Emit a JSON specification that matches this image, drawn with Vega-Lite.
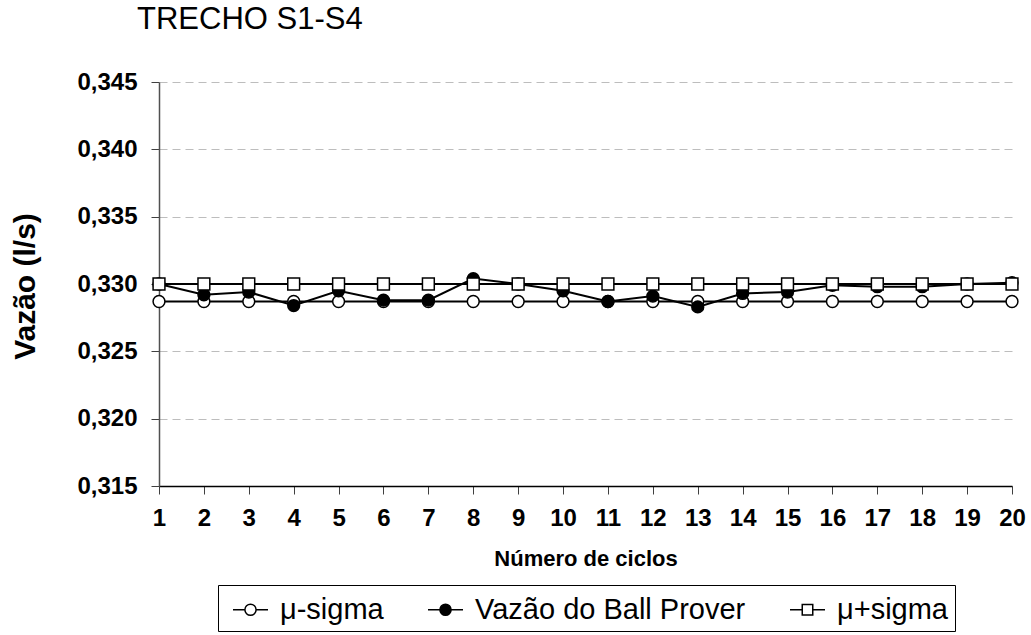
{
  "$schema": "https://vega.github.io/schema/vega-lite/v6.json",
  "width": 853,
  "height": 404,
  "autosize": {"type": "none"},
  "padding": {"left": 159, "top": 82, "right": 19, "bottom": 149},
  "background": "white",
  "title": {
    "text": "TRECHO S1-S4",
    "anchor": "start",
    "frame": "group",
    "font": "Liberation Sans",
    "fontSize": 31,
    "fontWeight": "normal",
    "color": "black",
    "dx": -22,
    "baseline": "alphabetic",
    "offset": 10
  },
  "data": {
    "values": [
      {"ciclo": 1, "serie": "μ-sigma", "valor": 0.3287},
      {"ciclo": 2, "serie": "μ-sigma", "valor": 0.3287},
      {"ciclo": 3, "serie": "μ-sigma", "valor": 0.3287},
      {"ciclo": 4, "serie": "μ-sigma", "valor": 0.3287},
      {"ciclo": 5, "serie": "μ-sigma", "valor": 0.3287},
      {"ciclo": 6, "serie": "μ-sigma", "valor": 0.3287},
      {"ciclo": 7, "serie": "μ-sigma", "valor": 0.3287},
      {"ciclo": 8, "serie": "μ-sigma", "valor": 0.3287},
      {"ciclo": 9, "serie": "μ-sigma", "valor": 0.3287},
      {"ciclo": 10, "serie": "μ-sigma", "valor": 0.3287},
      {"ciclo": 11, "serie": "μ-sigma", "valor": 0.3287},
      {"ciclo": 12, "serie": "μ-sigma", "valor": 0.3287},
      {"ciclo": 13, "serie": "μ-sigma", "valor": 0.3287},
      {"ciclo": 14, "serie": "μ-sigma", "valor": 0.3287},
      {"ciclo": 15, "serie": "μ-sigma", "valor": 0.3287},
      {"ciclo": 16, "serie": "μ-sigma", "valor": 0.3287},
      {"ciclo": 17, "serie": "μ-sigma", "valor": 0.3287},
      {"ciclo": 18, "serie": "μ-sigma", "valor": 0.3287},
      {"ciclo": 19, "serie": "μ-sigma", "valor": 0.3287},
      {"ciclo": 20, "serie": "μ-sigma", "valor": 0.3287},
      {"ciclo": 1, "serie": "Vazão do Ball Prover", "valor": 0.3300},
      {"ciclo": 2, "serie": "Vazão do Ball Prover", "valor": 0.3292},
      {"ciclo": 3, "serie": "Vazão do Ball Prover", "valor": 0.3294},
      {"ciclo": 4, "serie": "Vazão do Ball Prover", "valor": 0.3284},
      {"ciclo": 5, "serie": "Vazão do Ball Prover", "valor": 0.3295},
      {"ciclo": 6, "serie": "Vazão do Ball Prover", "valor": 0.3288},
      {"ciclo": 7, "serie": "Vazão do Ball Prover", "valor": 0.3288},
      {"ciclo": 8, "serie": "Vazão do Ball Prover", "valor": 0.3304},
      {"ciclo": 9, "serie": "Vazão do Ball Prover", "valor": 0.3300},
      {"ciclo": 10, "serie": "Vazão do Ball Prover", "valor": 0.3295},
      {"ciclo": 11, "serie": "Vazão do Ball Prover", "valor": 0.3287},
      {"ciclo": 12, "serie": "Vazão do Ball Prover", "valor": 0.3291},
      {"ciclo": 13, "serie": "Vazão do Ball Prover", "valor": 0.3283},
      {"ciclo": 14, "serie": "Vazão do Ball Prover", "valor": 0.3293},
      {"ciclo": 15, "serie": "Vazão do Ball Prover", "valor": 0.3294},
      {"ciclo": 16, "serie": "Vazão do Ball Prover", "valor": 0.3299},
      {"ciclo": 17, "serie": "Vazão do Ball Prover", "valor": 0.3298},
      {"ciclo": 18, "serie": "Vazão do Ball Prover", "valor": 0.3298},
      {"ciclo": 19, "serie": "Vazão do Ball Prover", "valor": 0.3300},
      {"ciclo": 20, "serie": "Vazão do Ball Prover", "valor": 0.3301},
      {"ciclo": 1, "serie": "μ+sigma", "valor": 0.3300},
      {"ciclo": 2, "serie": "μ+sigma", "valor": 0.3300},
      {"ciclo": 3, "serie": "μ+sigma", "valor": 0.3300},
      {"ciclo": 4, "serie": "μ+sigma", "valor": 0.3300},
      {"ciclo": 5, "serie": "μ+sigma", "valor": 0.3300},
      {"ciclo": 6, "serie": "μ+sigma", "valor": 0.3300},
      {"ciclo": 7, "serie": "μ+sigma", "valor": 0.3300},
      {"ciclo": 8, "serie": "μ+sigma", "valor": 0.3300},
      {"ciclo": 9, "serie": "μ+sigma", "valor": 0.3300},
      {"ciclo": 10, "serie": "μ+sigma", "valor": 0.3300},
      {"ciclo": 11, "serie": "μ+sigma", "valor": 0.3300},
      {"ciclo": 12, "serie": "μ+sigma", "valor": 0.3300},
      {"ciclo": 13, "serie": "μ+sigma", "valor": 0.3300},
      {"ciclo": 14, "serie": "μ+sigma", "valor": 0.3300},
      {"ciclo": 15, "serie": "μ+sigma", "valor": 0.3300},
      {"ciclo": 16, "serie": "μ+sigma", "valor": 0.3300},
      {"ciclo": 17, "serie": "μ+sigma", "valor": 0.3300},
      {"ciclo": 18, "serie": "μ+sigma", "valor": 0.3300},
      {"ciclo": 19, "serie": "μ+sigma", "valor": 0.3300},
      {"ciclo": 20, "serie": "μ+sigma", "valor": 0.3300}
    ]
  },
  "encoding": {
    "x": {
      "field": "ciclo",
      "type": "quantitative",
      "scale": {"domain": [1, 20], "nice": false, "zero": false},
      "axis": {
        "title": "Número de ciclos",
        "values": [1,2,3,4,5,6,7,8,9,10,11,12,13,14,15,16,17,18,19,20],
        "format": "d",
        "grid": false,
        "labelFlush": false,
        "labelOverlap": false,
        "labelFont": "Liberation Sans",
        "labelFontSize": 24,
        "labelFontWeight": "bold",
        "labelColor": "black",
        "labelPadding": 12,
        "tickSize": 8,
        "tickColor": "#404040",
        "domainColor": "black",
        "domainWidth": 1.5,
        "titleFont": "Liberation Sans",
        "titleFontSize": 22,
        "titleFontWeight": "bold",
        "titleColor": "black",
        "titleBaseline": "alphabetic",
        "titleY": 79
      }
    },
    "y": {
      "field": "valor",
      "type": "quantitative",
      "scale": {"domain": [0.315, 0.345], "nice": false, "zero": false},
      "axis": {
        "title": "Vazão (l/s)",
        "values": [0.315, 0.32, 0.325, 0.33, 0.335, 0.34, 0.345],
        "labelExpr": "replace(format(datum.value, '.3f'), '.', ',')",
        "grid": true,
        "gridColor": "#bdbdbd",
        "gridDash": [8, 5],
        "gridWidth": 1,
        "labelFlush": false,
        "labelFont": "Liberation Sans",
        "labelFontSize": 24,
        "labelFontWeight": "bold",
        "labelColor": "black",
        "labelPadding": 14,
        "tickSize": 8,
        "tickColor": "#404040",
        "domainColor": "#505050",
        "domainWidth": 1.5,
        "titleFont": "Liberation Sans",
        "titleFontSize": 30,
        "titleFontWeight": "bold",
        "titleColor": "black",
        "titleBaseline": "alphabetic",
        "titleX": -125,
        "titleY": 204
      }
    }
  },
  "layer": [
    {
      "mark": {"type": "line", "color": "black", "strokeWidth": 2},
      "encoding": {"detail": {"field": "serie"}}
    },
    {
      "mark": {"type": "point", "size": 140, "stroke": "black", "strokeWidth": 1.5, "opacity": 1, "fillOpacity": 1},
      "encoding": {
        "shape": {
          "field": "serie",
          "type": "nominal",
          "scale": {"domain": ["μ-sigma", "Vazão do Ball Prover", "μ+sigma"], "range": ["circle", "circle", "square"]},
          "legend": null
        },
        "fill": {
          "field": "serie",
          "type": "nominal",
          "scale": {"domain": ["μ-sigma", "Vazão do Ball Prover", "μ+sigma"], "range": ["white", "black", "white"]},
          "legend": null
        }
      }
    },
    {
      "transform": [{"filter": "false"}],
      "mark": {"type": "point", "filled": true, "strokeWidth": 1.5, "opacity": 1},
      "encoding": {
        "shape": {
          "field": "serie",
          "type": "nominal",
          "scale": {
            "domain": ["μ-sigma", "Vazão do Ball Prover", "μ+sigma"],
            "range": [
              "M-1,0L-0.32,0M0.32,0L1,0M0.32,0A0.32,0.32 0 1,1 -0.32,0A0.32,0.32 0 1,1 0.32,0Z",
              "M-1,0L-0.32,0M0.32,0L1,0M0.32,0A0.32,0.32 0 1,1 -0.32,0A0.32,0.32 0 1,1 0.32,0Z",
              "M-1,0L-0.3,0M0.3,0L1,0M-0.3,-0.3L0.3,-0.3L0.3,0.3L-0.3,0.3Z"
            ]
          },
          "legend": {
            "orient": "none",
            "legendX": 59,
            "legendY": 503,
            "direction": "horizontal",
            "title": null,
            "strokeColor": "black",
            "padding": 6,
            "symbolOffset": 8,
            "symbolSize": 1225,
            "symbolOpacity": 1,
            "symbolStrokeWidth": 1.5,
            "labelFont": "Liberation Sans",
            "labelFontSize": 29,
            "labelColor": "black",
            "labelLimit": 400,
            "labelOffset": 11,
            "columnPadding": 35
          }
        },
        "fill": {
          "field": "serie",
          "type": "nominal",
          "scale": {"domain": ["μ-sigma", "Vazão do Ball Prover", "μ+sigma"], "range": ["white", "black", "white"]},
          "legend": {
            "orient": "none",
            "legendX": 59,
            "legendY": 503,
            "direction": "horizontal",
            "title": null,
            "strokeColor": "black",
            "padding": 6,
            "symbolOffset": 8,
            "symbolSize": 1225,
            "symbolOpacity": 1,
            "symbolStrokeWidth": 1.5,
            "labelFont": "Liberation Sans",
            "labelFontSize": 29,
            "labelColor": "black",
            "labelLimit": 400,
            "labelOffset": 11,
            "columnPadding": 35
          }
        },
        "stroke": {
          "field": "serie",
          "type": "nominal",
          "scale": {"domain": ["μ-sigma", "Vazão do Ball Prover", "μ+sigma"], "range": ["black", "black", "black"]},
          "legend": {
            "orient": "none",
            "legendX": 59,
            "legendY": 503,
            "direction": "horizontal",
            "title": null,
            "strokeColor": "black",
            "padding": 6,
            "symbolOffset": 8,
            "symbolSize": 1225,
            "symbolOpacity": 1,
            "symbolStrokeWidth": 1.5,
            "labelFont": "Liberation Sans",
            "labelFontSize": 29,
            "labelColor": "black",
            "labelLimit": 400,
            "labelOffset": 11,
            "columnPadding": 35
          }
        }
      }
    }
  ],
  "resolve": {"scale": {"shape": "independent", "fill": "independent", "stroke": "independent"}},
  "config": {
    "view": {"stroke": null},
    "font": "Liberation Sans"
  }
}
